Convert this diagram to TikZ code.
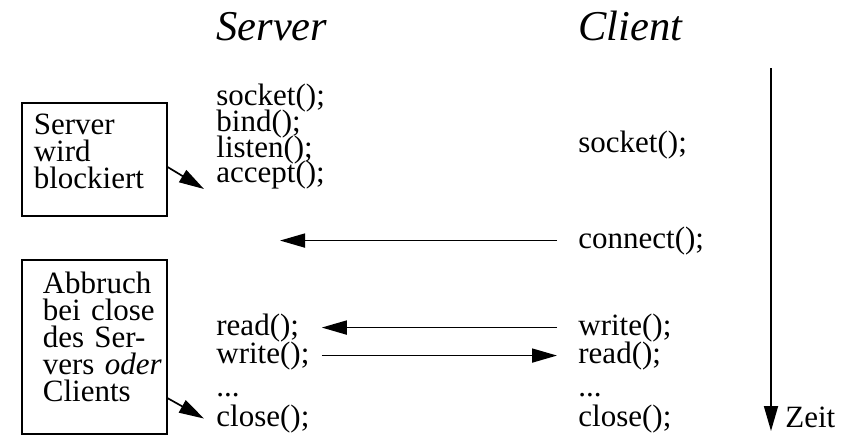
\documentclass[tikz,border=0pt]{standalone}
\usepackage{fontspec}
\setmainfont{Liberation Serif}
\usetikzlibrary{arrows.meta}
\hyphenpenalty=10000

\tikzset{
  flow/.style={line width=0.85pt, -{Triangle[length=12.5pt,width=7pt]}},
  code/.style={anchor=base west, inner xsep=6pt, inner ysep=0pt, font=\fontsize{15.5}{13.5}\selectfont},
  ccode/.style={code, inner xsep=10.5pt},
  note/.style={draw, line width=0.85pt, anchor=north west, align=left, text height=10.5pt, font=\fontsize{15.5}{13.5}\selectfont},
  head/.style={anchor=base west, inner sep=0pt, font=\fontsize{21.25}{24}\selectfont\itshape}
}

\begin{document}
\begin{tikzpicture}[x=0.5pt, y=-0.5pt]
\useasboundingbox (0,0) rectangle (861,436);
\node[head] (srv) at (216,40) {Server};
\node[head] (clt) at (578,40) {Client};

\node[code] (ssocket) at (204,105) {socket();};
\node[code] (sbind) at (204,131) {bind();};
\node[code] (slisten) at (204,157) {listen();};
\node[code] (saccept) at (204,182) {accept();};
\node[code] (sread) at (204,335) {read();};
\node[code] (swrite) at (204,363) {write();};
\node[code] (sdots) at (204,396) {...};
\node[code] (sclose) at (204,426) {close();};

\node[ccode] (csocket) at (557,152) {socket();};
\node[ccode] (cconnect) at (557,248) {connect();};
\node[ccode] (cwrite) at (557,335) {write();};
\node[ccode] (cread) at (557,363) {read();};
\node[ccode] (cdots) at (557,396) {...};
\node[ccode] (cclose) at (557,426) {close();};

\node[note, inner xsep=6pt, text width=60.5pt, minimum height=56.5pt, text depth=35pt]
  (blockbox) at (21,102) {Server\\wird\\blockiert};
\node[note, inner xsep=10.5pt, text width=51.5pt, minimum height=87pt, text depth=63.5pt]
  (abortbox) at (21,259) {Abbruch\\bei~close\\des~Ser-\\vers~\textit{oder}\\Clients};

\draw[flow] (blockbox.-6) -- (saccept.south west);
\draw[flow] (abortbox.-35) -- (sclose.west);

\coordinate (conntip) at (280,0);
\draw[flow] (cconnect.west) -- (cconnect.west -| conntip);
\draw[flow] (cwrite.west) -- (cwrite.west -| swrite.east);
\draw[flow] (swrite.east) -- (cread.west);

\coordinate (ttop) at (771,68);
\coordinate (tbot) at (771,431);
\draw[flow] (ttop) -- (tbot);
\node[code, inner xsep=0pt] (zeit) at (785,427) {Zeit};
\end{tikzpicture}
\end{document}
